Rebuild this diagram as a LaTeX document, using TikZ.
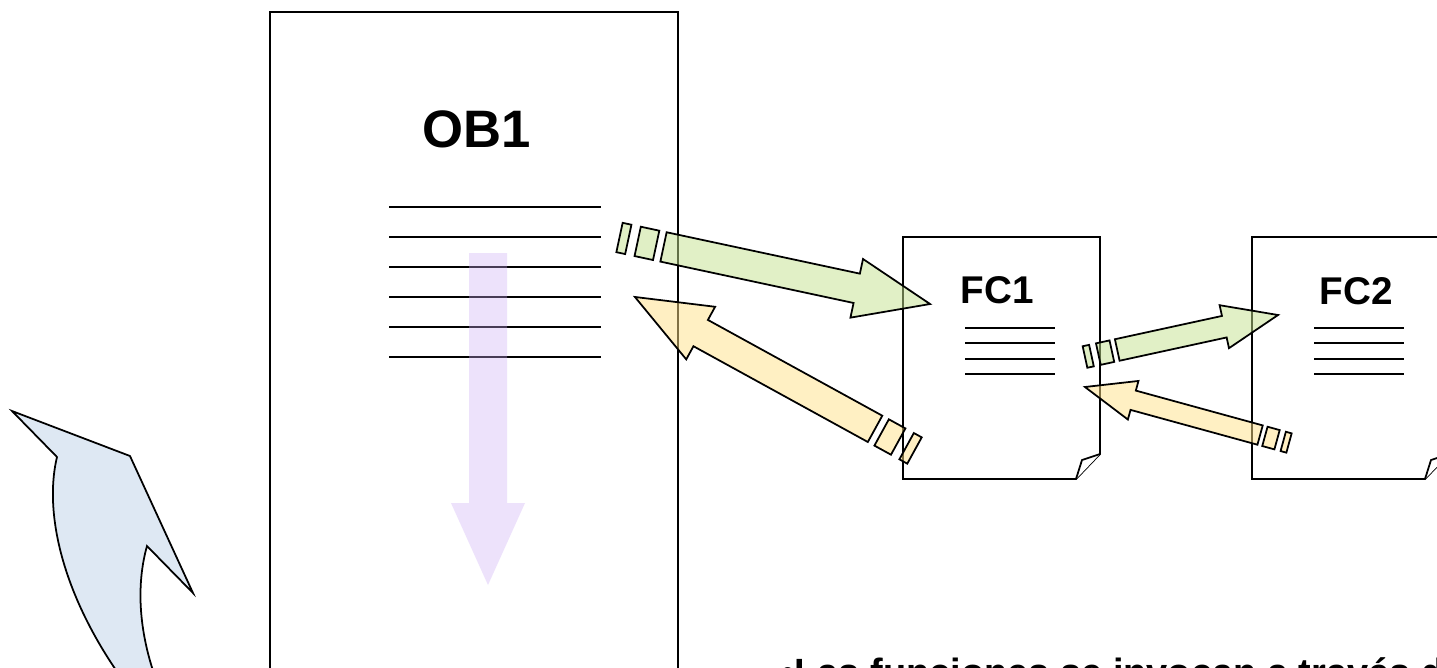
\documentclass[tikz,border=0pt]{standalone}
\usepackage{fontspec}
\setmainfont{Liberation Sans}
\usetikzlibrary{calc}
\definecolor{callgreen}{RGB}{195,225,141}
\definecolor{retyellow}{RGB}{255,225,135}
\definecolor{scanviolet}{RGB}{206,172,246}
\definecolor{cycleblue}{RGB}{222,232,243}

% striped block arrow: tail, tip, shaft width, colour
\newcommand\stripearrow[4]{%
	\path let \p1 = ($(#2)-(#1)$) in \pgfextra{%
		\pgfmathsetmacro\arrang{atan2(\y1,\x1)}%
		\pgfmathsetmacro\arrlen{veclen(\x1,\y1)/0.569055}%
		\xdef\arrang{\arrang}\xdef\arrlen{\arrlen}};
	\begin{scope}[shift={(#1)}, rotate=\arrang]
		\draw[blockarrow, fill=#4] (0,-#3/2) rectangle (0.3*#3,#3/2);
		\draw[blockarrow, fill=#4] (0.62*#3,-#3/2) rectangle (1.25*#3,#3/2);
		\draw[blockarrow, fill=#4] (1.5*#3,-#3/2) -- (\arrlen-2.5*#3,-#3/2) -- (\arrlen-2.5*#3,-#3)
			-- (\arrlen,0) -- (\arrlen-2.5*#3,#3) -- (\arrlen-2.5*#3,#3/2) -- (1.5*#3,#3/2) -- cycle;
	\end{scope}}

% page with folded corner: name, top left x, y
\newcommand\fcpage[3]{%
	\coordinate (#1) at (#2,#3);
	\draw[page] (#1) -- ++(197,0) -- ++(0,217) -- ++(-24,25) -- ++(-173,0) -- cycle;
	\draw[page] ($(#1)+(173,242)$) -- ($(#1)+(179,223)$) -- ($(#1)+(197,217)$);
	\foreach \j in {0,...,3}{
		\draw[rule] ($(#1)+(62,91+15.3*\j)$) -- ++(90,0);
		};}

\begin{document}
\begin{tikzpicture}[x=0.02cm, y=-0.02cm,
	block/.style={draw, line width=1pt, fill=white, inner sep=0pt},
	page/.style={draw, line width=1pt, fill=white},
	rule/.style={line width=1.1pt},
	blockarrow/.style={draw, line width=1pt, fill opacity=0.5},
	oblabel/.style={font=\bfseries\fontsize{30}{36}\selectfont, anchor=base},
	fclabel/.style={font=\bfseries\fontsize{22}{26}\selectfont, anchor=base}]
	\useasboundingbox (0,0) rectangle (1437,667);
	\clip (0,0) rectangle (1437,667);

	% OB1
	\node[block, anchor=north west, minimum width=8.16cm, minimum height=14.2cm] (ob1) at (269,11) {};
	\node[oblabel] (ob1 title) at (477,147) {OB1};
	\foreach \i in {0,...,5}{
		\draw[rule] (389,207+30*\i) -- (601,207+30*\i);
		};
	\fill[scanviolet, fill opacity=0.35] (469,253) -- (507,253) -- (507,503) -- (525,503)
		-- (488,585) -- (451,503) -- (469,503) -- cycle;

	% FC1, FC2
	\fcpage{fc1}{903}{237}
	\fcpage{fc2}{1252}{237}
	\node[fclabel] (fc1 title) at (997,303) {FC1};
	\node[fclabel] (fc2 title) at (1356,304) {FC2};

	% calls and returns
	\coordinate (call1 tail) at (619.5,237.5);
	\coordinate (call1 tip) at (930,304);
	\coordinate (ret1 tail) at (914.5,450.5);
	\coordinate (ret1 tip) at (635,297);
	\coordinate (call2 tail) at (1085,357);
	\coordinate (call2 tip) at (1278,315);
	\coordinate (ret2 tail) at (1289,443);
	\coordinate (ret2 tip) at (1085,387);
	\stripearrow{call1 tail}{call1 tip}{30}{callgreen}
	\stripearrow{ret1 tail}{ret1 tip}{30}{retyellow}
	\stripearrow{call2 tail}{call2 tip}{22}{callgreen}
	\stripearrow{ret2 tail}{ret2 tip}{20}{retyellow}

	% cycle
	\draw[blockarrow, fill=cycleblue, fill opacity=1] (12,411) -- (130,456) -- (193,593) -- (147,546)
		.. controls (136,585) and (138,635) .. (160,690) -- (138,700)
		.. controls (68,612) and (42,520) .. (57,457) -- cycle;

	\node[anchor=base west, inner sep=0pt, font=\bfseries\fontsize{21.6}{26}\selectfont] (note) at (781,685)
		{•Las funciones se invocan a través d};
\end{tikzpicture}
\end{document}
